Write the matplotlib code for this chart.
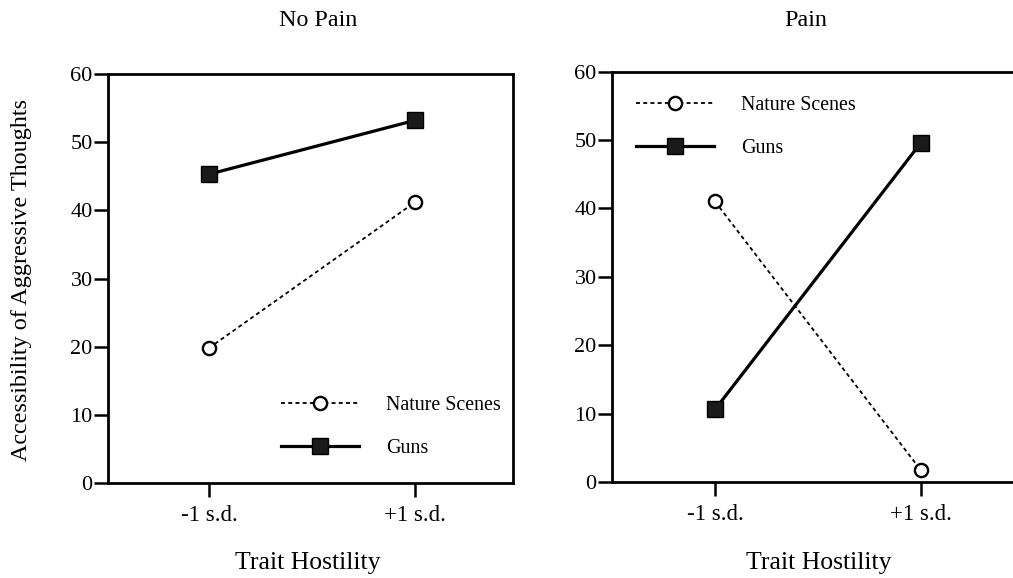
import matplotlib
matplotlib.use("Agg")
import matplotlib.pyplot as plt

plt.rcParams['font.family'] = ['Liberation Serif', 'DejaVu Serif']

# 数据
x_labels = ['-1 s.d.', '+1 s.d.']
x_pos = [0, 1]
nopain_nature = [19.8, 41.2]
nopain_guns = [45.3, 53.2]
pain_nature = [41.0, 1.7]
pain_guns = [10.6, 49.6]
y_ticks = [0, 10, 20, 30, 40, 50, 60]

fig = plt.figure(figsize=(10.13, 5.78), dpi=100)
ax1 = fig.add_axes([108 / 1013, 1 - 483 / 578, 405 / 1013, 409 / 578])
ax2 = fig.add_axes([612 / 1013, 1 - 482 / 578, 412 / 1013, 410.5 / 578])


def draw_panel(ax, nature, guns, xlim, legend_anchor):
    ax.plot(x_pos, nature, color='black', lw=1.3, dashes=(2.2, 1.8),
            marker='o', markersize=9.5, markerfacecolor='white',
            markeredgecolor='black', markeredgewidth=1.7, label='Nature Scenes')
    ax.plot(x_pos, guns, color='black', lw=2.3, marker='s', markersize=11,
            markerfacecolor='#1a1a1a', markeredgecolor='black', label='Guns')
    ax.set_xlim(*xlim)
    ax.set_ylim(0, 60)
    ax.set_xticks(x_pos)
    ax.set_xticklabels(x_labels, fontsize=16.5)
    ax.set_yticks(y_ticks)
    ax.set_yticklabels([str(v) for v in y_ticks], fontsize=16)
    ax.tick_params(axis='x', direction='out', length=10, width=1.8, pad=6)
    ax.tick_params(axis='y', direction='out', length=10, width=1.8, pad=1)
    for s in ax.spines.values():
        s.set_linewidth(2)
    leg = ax.legend(loc='center left', bbox_to_anchor=legend_anchor, frameon=False,
                    fontsize=14.4, handlelength=3.9, handletextpad=1.35,
                    labelspacing=1.2, borderaxespad=0)
    return leg


draw_panel(ax1, nopain_nature, nopain_guns, (-0.49, 1.475), (0.408, 0.138))
draw_panel(ax2, pain_nature, pain_guns, (-0.5, 1.5), (0.04, 0.865))

fig.text(318 / 1013, 1 - 21 / 578, 'No Pain', ha='center', va='center', fontsize=17.3)
fig.text(806 / 1013, 1 - 21 / 578, 'Pain', ha='center', va='center', fontsize=17.3)
fig.text(308 / 1013, 1 - 563 / 578, 'Trait Hostility', ha='center', va='center', fontsize=18.5)
fig.text(819 / 1013, 1 - 563 / 578, 'Trait Hostility', ha='center', va='center', fontsize=18.5)
fig.text(22 / 1013, 1 - 280 / 578, 'Accessibility of Aggressive Thoughts',
         ha='center', va='center', rotation=90, fontsize=17.4)

plt.savefig('out.png', dpi=100)
